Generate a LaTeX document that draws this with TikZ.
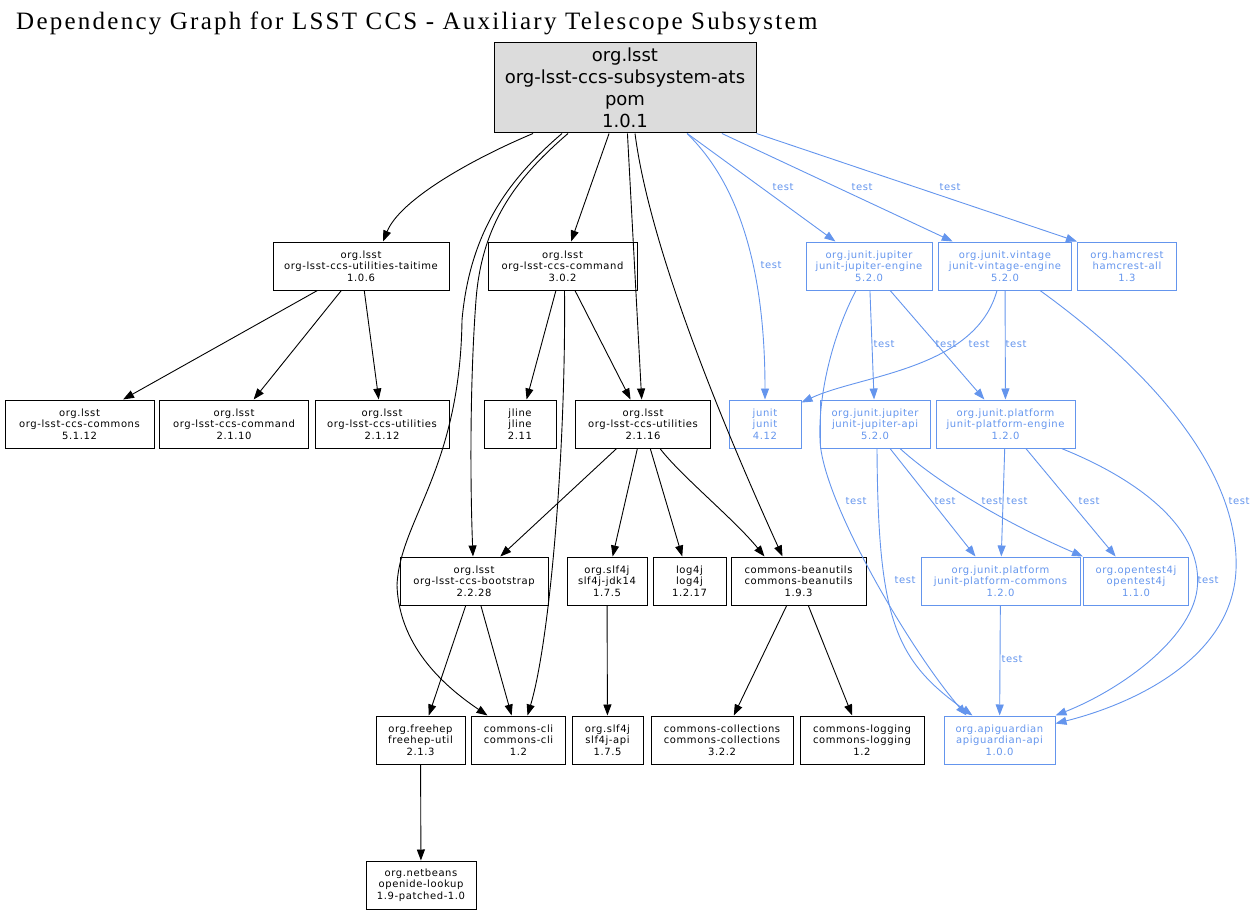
\documentclass[tikz,border=0pt]{standalone}
\usepackage{fontspec}
\usetikzlibrary{arrows.meta}
\newfontfamily\depfont{DejaVu Sans}[LetterSpace=6]
\newfontfamily\rootfont{DejaVu Sans}
\newfontfamily\titlefont{Liberation Serif}[LetterSpace=9]
\definecolor{testblue}{HTML}{6495ED}
\definecolor{rootgray}{HTML}{DCDCDC}

\begin{document}
\begin{tikzpicture}[x=1pt, y=-1pt,
artifact/.style={draw, line width=1pt, rectangle, inner sep=0pt, minimum height=48pt, minimum width=#1, align=center, font=\depfont\fontsize{10}{11.7}\selectfont},
testartifact/.style={artifact=#1, draw=testblue, text=testblue},
dep/.style={-{Triangle[length=11pt,width=8pt]}, line width=0.9pt},
testdep/.style={dep, testblue},
testlabel/.style={text=testblue, inner sep=0pt, font=\depfont\fontsize{10}{11.7}\selectfont}]
    \useasboundingbox (0,0) rectangle (1256,915);
    \node [anchor=base west, inner sep=0pt, font=\titlefont\fontsize{25}{29}\selectfont] (title) at (16,30) {Dependency Graph for LSST CCS - Auxiliary Telescope Subsystem};
    \node [draw, line width=1pt, fill=rootgray, minimum width=262pt, minimum height=90pt, inner sep=0pt, align=center, font=\rootfont\fontsize{18}{22}\selectfont] (root) at (625,88) {org.lsst\\org-lsst-ccs-subsystem-ats\\pom\\1.0.1};

    \node [artifact=176pt] (taitime) at (361,266) {org.lsst\\org-lsst-ccs-utilities-taitime\\1.0.6};
    \node [artifact=149pt] (command302) at (562.5,266) {org.lsst\\org-lsst-ccs-command\\3.0.2};
    \node [testartifact=126pt] (jupiterengine) at (869,266) {org.junit.jupiter\\junit-jupiter-engine\\5.2.0};
    \node [testartifact=133pt] (vintageengine) at (1005,266) {org.junit.vintage\\junit-vintage-engine\\5.2.0};
    \node [testartifact=99pt] (hamcrest) at (1127,266) {org.hamcrest\\hamcrest-all\\1.3};

    \node [artifact=149pt] (commons5112) at (79.5,424) {org.lsst\\org-lsst-ccs-commons\\5.1.12};
    \node [artifact=149pt] (command2110) at (234,424) {org.lsst\\org-lsst-ccs-command\\2.1.10};
    \node [artifact=134pt] (utilities2112) at (382,424) {org.lsst\\org-lsst-ccs-utilities\\2.1.12};
    \node [artifact=72pt] (jline) at (520,424) {jline\\jline\\2.11};
    \node [artifact=135pt] (utilities2116) at (643,424) {org.lsst\\org-lsst-ccs-utilities\\2.1.16};
    \node [testartifact=72pt] (junit) at (765,424) {junit\\junit\\4.12};
    \node [testartifact=110pt] (jupiterapi) at (875,424) {org.junit.jupiter\\junit-jupiter-api\\5.2.0};
    \node [testartifact=139pt] (platformengine) at (1005.5,424) {org.junit.platform\\junit-platform-engine\\1.2.0};

    \node [artifact=148pt] (bootstrap) at (474,581) {org.lsst\\org-lsst-ccs-bootstrap\\2.2.28};
    \node [artifact=80pt] (slf4jjdk) at (607,581) {org.slf4j\\slf4j-jdk14\\1.7.5};
    \node [artifact=73pt] (log4j) at (689.5,581) {log4j\\log4j\\1.2.17};
    \node [artifact=135pt] (beanutils) at (798.5,581) {commons-beanutils\\commons-beanutils\\1.9.3};
    \node [testartifact=159pt] (platformcommons) at (1000.5,581) {org.junit.platform\\junit-platform-commons\\1.2.0};
    \node [testartifact=105pt] (opentest) at (1136,581) {org.opentest4j\\opentest4j\\1.1.0};

    \node [artifact=89pt] (freehep) at (420.5,740) {org.freehep\\freehep-util\\2.1.3};
    \node [artifact=94pt] (cli) at (518.5,740) {commons-cli\\commons-cli\\1.2};
    \node [artifact=71pt] (slf4japi) at (607.5,740) {org.slf4j\\slf4j-api\\1.7.5};
    \node [artifact=142pt] (collections) at (722,740) {commons-collections\\commons-collections\\3.2.2};
    \node [artifact=124pt] (logging) at (862,740) {commons-logging\\commons-logging\\1.2};
    \node [testartifact=111pt] (apiguardian) at (999.5,740) {org.apiguardian\\apiguardian-api\\1.0.0};

    \node [artifact=110pt] (netbeans) at (421,885) {org.netbeans\\openide-lookup\\1.9-patched-1.0};

    \draw [dep] ([xshift=-92pt]root.south) .. controls (470,160) and (400,200) .. ([xshift=22pt]taitime.north);
    \draw [dep] ([xshift=-63pt]root.south) .. controls (510,178) and (470,230) .. (462,320) .. controls (460,470) and (400,520) .. (397,585) .. controls (399,650) and (450,690) .. ([xshift=-31pt]cli.north);
    \draw [dep] ([xshift=-57pt]root.south) .. controls (520,175) and (482,220) .. (476,300) .. controls (470,380) and (470,480) .. ([xshift=-1pt]bootstrap.north);
    \draw [dep] (root) -- (command302);
    \draw [dep] (root) -- (utilities2116);
    \draw [dep] ([xshift=10pt]root.south) .. controls (650,250) and (725,430) .. ([xshift=-16pt]beanutils.north);
    \draw [dep] (taitime) -- (commons5112);
    \draw [dep] (taitime) -- (command2110);
    \draw [dep] (taitime) -- (utilities2112);
    \draw [dep] (command302) -- (jline);
    \draw [dep] (command302) -- (utilities2116);
    \draw [dep] ([xshift=2pt]command302.south) .. controls (566,450) and (550,640) .. ([xshift=9pt]cli.north);
    \draw [dep] (utilities2116) -- (bootstrap);
    \draw [dep] (utilities2116) -- (slf4jjdk);
    \draw [dep] (utilities2116) -- (log4j);
    \draw [dep] ([xshift=17pt]utilities2116.south) .. controls (680,475) and (735,520) .. ([xshift=-34pt]beanutils.north);
    \draw [dep] (bootstrap) -- (freehep);
    \draw [dep] (bootstrap) -- (cli);
    \draw [dep] (slf4jjdk) -- (slf4japi);
    \draw [dep] (beanutils) -- (collections);
    \draw [dep] (beanutils) -- (logging);
    \draw [dep] (freehep) -- (netbeans);

    \draw [testdep] ([xshift=62pt]root.south) .. controls (735,180) and (765,260) .. (junit.north);
    \draw [testdep] (root) -- (jupiterengine);
    \draw [testdep] (root) -- (vintageengine);
    \draw [testdep] (root.south east) -- (hamcrest.north west);
    \draw [testdep] (jupiterengine) -- (jupiterapi);
    \draw [testdep] (jupiterengine) -- (platformengine);
    \draw [testdep] ([xshift=-13pt]jupiterengine.south) .. controls (835,330) and (818,390) .. (820,440) .. controls (822,500) and (910,650) .. ([xshift=-33pt]apiguardian.north);
    \draw [testdep] ([xshift=-8pt]vintageengine.south) .. controls (975,370) and (860,375) .. ([yshift=-3pt]junit.north east);
    \draw [testdep] (vintageengine) -- (platformengine);
    \draw [testdep] ([xshift=35pt]vintageengine.south) .. controls (1150,370) and (1240,470) .. (1236,570) .. controls (1232,660) and (1130,705) .. ([yshift=-8pt]apiguardian.north east);
    \draw [testdep] ([xshift=2pt]jupiterapi.south) .. controls (878,620) and (895,660) .. ([xshift=-27pt]apiguardian.north);
    \draw [testdep] ([xshift=15pt]jupiterapi.south) -- ([xshift=-25pt]platformcommons.north);
    \draw [testdep] ([xshift=25pt]jupiterapi.south) .. controls (940,485) and (1010,525) .. (opentest.north west);
    \draw [testdep] (platformengine) -- (platformcommons);
    \draw [testdep] (platformengine) -- (opentest);
    \draw [testdep] ([xshift=56pt]platformengine.south) .. controls (1140,480) and (1205,530) .. (1197,590) .. controls (1190,640) and (1120,690) .. (apiguardian.north east);
    \draw [testdep] (platformcommons) -- (apiguardian);

    \node [testlabel] (tjunit) at (771,265) {test};
    \node [testlabel] (tjupiterengine) at (783,187) {test};
    \node [testlabel] (tvintageengine) at (862,187) {test};
    \node [testlabel] (thamcrest) at (950,187) {test};
    \node [testlabel] (tjupiterapi) at (884,344) {test};
    \node [testlabel] (tjupiterplatform) at (946,344) {test};
    \node [testlabel] (tvintagejunit) at (979,344) {test};
    \node [testlabel] (tvintageplatform) at (1016,344) {test};
    \node [testlabel] (tjupiterapiguardian) at (856,501) {test};
    \node [testlabel] (tapicommons) at (945,501) {test};
    \node [testlabel] (tapiopentest) at (992,501) {test};
    \node [testlabel] (tenginecommons) at (1017,501) {test};
    \node [testlabel] (tengineopentest) at (1089,501) {test};
    \node [testlabel] (tvintageapiguardian) at (1239,501) {test};
    \node [testlabel] (tapiapiguardian) at (905,580) {test};
    \node [testlabel] (tengineapiguardian) at (1208,580) {test};
    \node [testlabel] (tcommonsapiguardian) at (1012,659) {test};
\end{tikzpicture}
\end{document}
